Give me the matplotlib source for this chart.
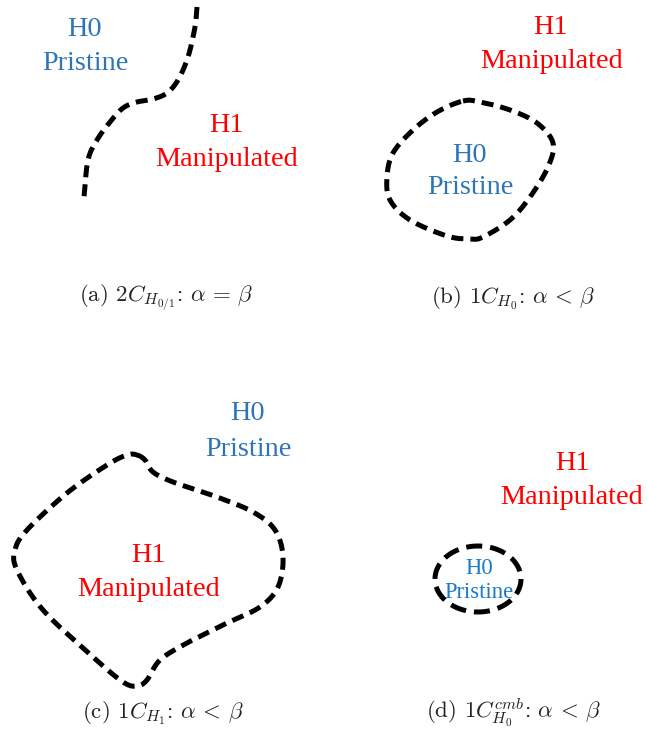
import numpy as np
import matplotlib
matplotlib.use("Agg")
import matplotlib.pyplot as plt

plt.rcParams['mathtext.fontset'] = 'cm'

# ---- boundary curves (pixel-space control points) ----
curve_a_x = [197, 195, 188, 178, 167, 153, 137, 123, 110, 97, 88, 84]
curve_a_y = [7, 27, 57, 80, 93, 99, 102, 108, 122, 140, 160, 197]

curve_b_x = [463, 480, 510, 537, 553, 548, 530, 510, 483, 470, 447, 410, 390, 387, 393, 413, 437]
curve_b_y = [101, 102, 110, 123, 143, 167, 197, 220, 237, 239, 236, 220, 200, 177, 153, 130, 112]

curve_c_x = [137, 145, 153, 173, 217, 253, 275, 283, 278, 260, 227, 187, 160, 147, 137, 123, 93, 43, 17, 15, 27, 67, 107, 127]
curve_c_y = [455, 460, 472, 482, 497, 512, 530, 557, 587, 607, 623, 643, 660, 680, 686, 682, 657, 610, 570, 550, 530, 493, 465, 455]

ellipse_d_center = (478, 579)
ellipse_d_radii = (43, 33)

# ---- labels ----
labels_text = ["H0", "Pristine", "H1", "Manipulated",
               "H1", "Manipulated", "H0", "Pristine",
               "H0", "Pristine", "H1", "Manipulated",
               "H1", "Manipulated", "H0", "Pristine"]
labels_x = [85, 85, 227, 227, 551, 552, 470, 470, 248, 248, 148, 149, 572, 572, 479, 479]
labels_y = [30, 64, 126, 160, 28, 62, 155, 188, 414, 449, 556, 590, 464, 498, 568, 593]
labels_kind = ["H0", "H0", "H1", "H1", "H1", "H1", "H0", "H0",
               "H0", "H0", "H1", "H1", "H1", "H1", "H0s", "H0s"]

captions = [r"(a) $2C_{H_{0/1}}$: $\alpha\,=\,\beta$",
            r"(b) $1C_{H_0}$: $\alpha\,<\,\beta$",
            r"(c) $1C_{H_1}$: $\alpha\,<\,\beta$",
            r"(d) $1C_{H_0}^{cmb}$: $\alpha\,<\,\beta$"]
captions_x = [166, 513, 163, 513]
captions_y = [298, 298, 713, 713]


def catmull(xs, ys, closed, n=30):
    p = np.column_stack([xs, ys]).astype(float)
    if closed:
        p = np.vstack([p[-1], p, p[0], p[1]])
    else:
        p = np.vstack([2 * p[0] - p[1], p, 2 * p[-1] - p[-2]])
    out = []
    t = np.linspace(0, 1, n, endpoint=False)[:, None]
    for i in range(1, len(p) - 2):
        p0, p1, p2, p3 = p[i - 1], p[i], p[i + 1], p[i + 2]
        seg = 0.5 * ((2 * p1) + (-p0 + p2) * t + (2 * p0 - 5 * p1 + 4 * p2 - p3) * t ** 2
                     + (-p0 + 3 * p1 - 3 * p2 + p3) * t ** 3)
        out.append(seg)
    out.append(p[len(p) - 2][None, :])
    out = np.vstack(out)
    return out[:, 0], out[:, 1]


fig = plt.figure(figsize=(6.47, 7.32), dpi=100)
ax = fig.add_axes([0, 0, 1, 1])
ax.set_xlim(0, 647)
ax.set_ylim(732, 0)
ax.axis('off')

lw = 3.6
dash = (2.4, 1.4)
for xs, ys, closed in [(curve_a_x, curve_a_y, False),
                       (curve_b_x, curve_b_y, True),
                       (curve_c_x, curve_c_y, True)]:
    sx, sy = catmull(xs, ys, closed)
    ax.plot(sx, sy, color='black', lw=lw, dashes=dash, solid_capstyle='butt',
            dash_capstyle='butt')

th = np.linspace(0, 2 * np.pi, 300)
ax.plot(ellipse_d_center[0] + ellipse_d_radii[0] * np.cos(th),
        ellipse_d_center[1] + ellipse_d_radii[1] * np.sin(th),
        color='black', lw=lw, dashes=(3.2, 1.6), dash_capstyle='butt')

styles = {"H0": dict(color='#2E75B6', fontsize=20.3),
          "H1": dict(color='#FF0000', fontsize=20.3),
          "H0s": dict(color='#1A7AC8', fontsize=16.3)}
for t, x, y, k in zip(labels_text, labels_x, labels_y, labels_kind):
    ax.text(x, y, t, ha='center', va='center', family='Liberation Serif', **styles[k])

for c, x, y in zip(captions, captions_x, captions_y):
    ax.text(x, y, c, ha='center', va='center', fontsize=16.5, color='#222222',
            family='cmr10')

fig.savefig('out.png', dpi=100)
